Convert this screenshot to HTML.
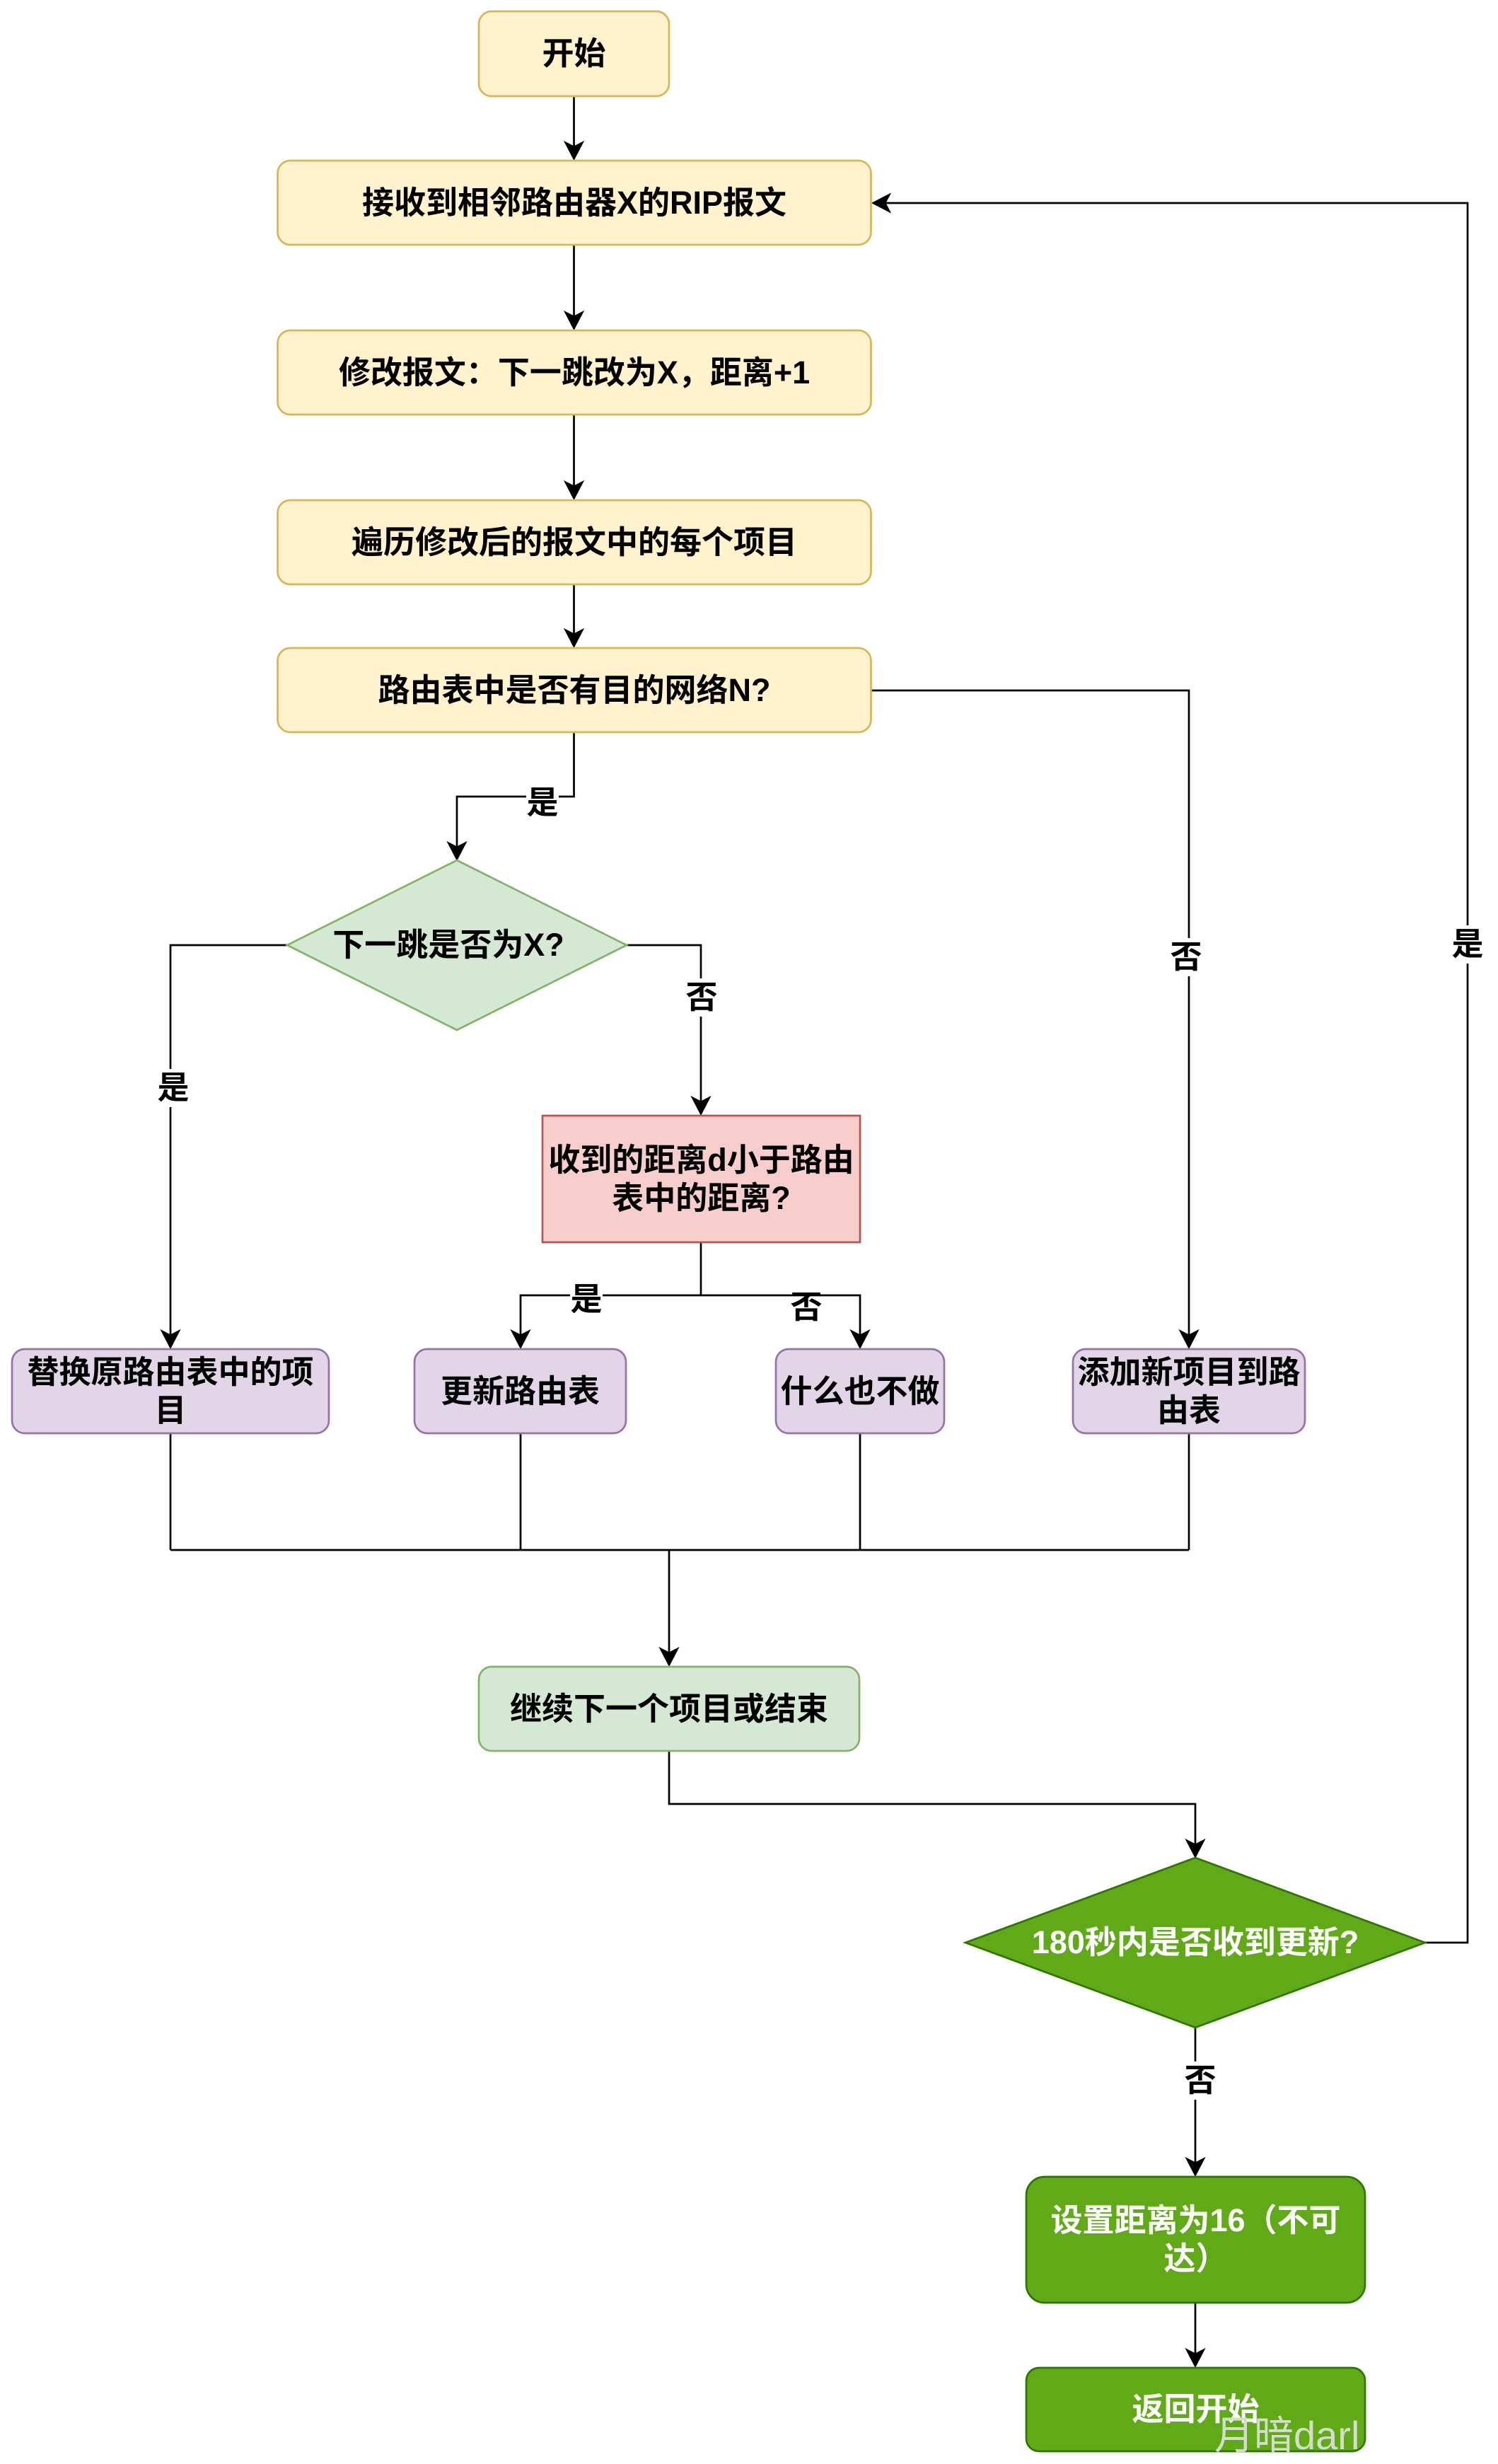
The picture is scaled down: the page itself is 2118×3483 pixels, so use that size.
<!DOCTYPE html>
<html>
<head>
<meta charset="utf-8">
<style>
html,body{margin:0;padding:0;background:#fff;}
#wrap{position:relative;width:2118px;height:3483px;overflow:hidden;background:#fff;}
svg{position:absolute;left:0;top:0;}
.t{position:absolute;display:flex;align-items:center;justify-content:center;text-align:center;
font-family:"Liberation Sans","Noto Sans CJK SC",sans-serif;font-weight:bold;font-size:45px;line-height:54px;color:#000;white-space:nowrap;}
.w{color:#fff;}
.lb{position:absolute;width:46px;height:54px;margin-left:-23px;margin-top:-27px;background:#fff;
font-family:"Liberation Sans","Noto Sans CJK SC",sans-serif;font-weight:bold;font-size:45px;line-height:54px;text-align:center;color:#000;}
#wm{position:absolute;left:1451px;top:3347px;width:482px;height:119px;overflow:hidden;}
#wm span{position:absolute;left:266px;top:68px;font-family:"Liberation Sans","Noto Sans CJK SC",sans-serif;font-weight:normal;font-size:56px;line-height:56px;color:#d5dccd;white-space:nowrap;}
</style>
</head>
<body>
<div id="wrap">
<svg width="2118" height="3483" viewBox="0 0 2118 3483" xmlns="http://www.w3.org/2000/svg">
<g fill="none" stroke="#000" stroke-width="2.7">
<line x1="811.5" y1="137" x2="811.5" y2="210"/>
<line x1="811.5" y1="347" x2="811.5" y2="450"/>
<line x1="811.5" y1="587" x2="811.5" y2="690"/>
<line x1="811.5" y1="826" x2="811.5" y2="899"/>
<polyline points="811.5,1036 811.5,1126 646,1126 646,1200"/>
<polyline points="406,1336 241,1336 241,1890"/>
<polyline points="886,1336 991,1336 991,1560"/>
<polyline points="1232,976 1681,976 1681,1890"/>
<polyline points="991,1757 991,1831"/>
<polyline points="736,1890 736,1831 1216,1831 1216,1890"/>
<line x1="241" y1="2027" x2="241" y2="2191"/>
<line x1="736" y1="2027" x2="736" y2="2191"/>
<line x1="1216" y1="2027" x2="1216" y2="2191"/>
<line x1="1681" y1="2027" x2="1681" y2="2191"/>
<line x1="241" y1="2191" x2="1681" y2="2191"/>
<line x1="946" y1="2191" x2="946" y2="2339"/>
<polyline points="946,2476 946,2550 1690,2550 1690,2610"/>
<polyline points="2015,2746 2075,2746 2075,287 1249,287"/>
<line x1="1690" y1="2866" x2="1690" y2="3060"/>
<line x1="1690" y1="3256" x2="1690" y2="3330"/>
</g>
<g fill="#000" stroke="#000" stroke-width="1" stroke-linejoin="miter">
<path d="M811.5 226 L798 200 L811.5 207 L825 200Z"/>
<path d="M811.5 466 L798 440 L811.5 447 L825 440Z"/>
<path d="M811.5 706 L798 680 L811.5 687 L825 680Z"/>
<path d="M811.5 915 L798 889 L811.5 896 L825 889Z"/>
<path d="M646 1216 L632.5 1190 L646 1197 L659.5 1190Z"/>
<path d="M241 1906 L227.5 1880 L241 1887 L254.5 1880Z"/>
<path d="M991 1576 L977.5 1550 L991 1557 L1004.5 1550Z"/>
<path d="M1681 1906 L1667.5 1880 L1681 1887 L1694.5 1880Z"/>
<path d="M736 1906 L722.5 1880 L736 1887 L749.5 1880Z"/>
<path d="M1216 1906 L1202.5 1880 L1216 1887 L1229.5 1880Z"/>
<path d="M946 2355 L932.5 2329 L946 2336 L959.5 2329Z"/>
<path d="M1690 2626 L1676.5 2600 L1690 2607 L1703.5 2600Z"/>
<path d="M1690 3076 L1676.5 3050 L1690 3057 L1703.5 3050Z"/>
<path d="M1690 3346 L1676.5 3320 L1690 3327 L1703.5 3320Z"/>
<path d="M1233 287 L1259 273.5 L1252 287 L1259 300.5Z"/>
</g>
<g fill="#fff2cc" stroke="#d6b656" stroke-width="2.7">
<rect x="677" y="16" width="269" height="120" rx="18" ry="18"/>
<rect x="392.5" y="227" width="839" height="119" rx="18" ry="18"/>
<rect x="392.5" y="467" width="839" height="119" rx="18" ry="18"/>
<rect x="392.5" y="707" width="839" height="119" rx="18" ry="18"/>
<rect x="392.5" y="916" width="839" height="119" rx="18" ry="18"/>
</g>
<polygon points="646,1216 886,1336 646,1456 406,1336" fill="#d5e8d4" stroke="#82b366" stroke-width="2.7"/>
<rect x="767" y="1577" width="449" height="179" fill="#f8cecc" stroke="#b85450" stroke-width="2.7"/>
<g fill="#e1d5e7" stroke="#9673a6" stroke-width="2.7">
<rect x="17" y="1907" width="448" height="119" rx="18" ry="18"/>
<rect x="586" y="1907" width="299" height="119" rx="18" ry="18"/>
<rect x="1097" y="1907" width="238" height="119" rx="18" ry="18"/>
<rect x="1517" y="1907" width="328" height="119" rx="18" ry="18"/>
</g>
<rect x="677" y="2356" width="538" height="119" rx="18" ry="18" fill="#d5e8d4" stroke="#82b366" stroke-width="2.7"/>
<polygon points="1690,2626 2015,2746 1690,2866 1365,2746" fill="#60a917" stroke="#2d7600" stroke-width="2.7"/>
<rect x="1451" y="3077" width="479" height="178" rx="26" ry="26" fill="#60a917" stroke="#2d7600" stroke-width="2.7"/>
<rect x="1451" y="3347" width="479" height="118" rx="18" ry="18" fill="#60a917" stroke="#2d7600" stroke-width="2.7"/>
</svg>

<div class="t" style="left:677px;top:16px;width:269px;height:120px;">开始</div>
<div class="t" style="left:392px;top:227px;width:840px;height:119px;">接收到相邻路由器X的RIP报文</div>
<div class="t" style="left:392px;top:467px;width:840px;height:119px;">修改报文：下一跳改为X，距离+1</div>
<div class="t" style="left:392px;top:707px;width:840px;height:119px;">遍历修改后的报文中的每个项目</div>
<div class="t" style="left:392px;top:916px;width:840px;height:119px;">路由表中是否有目的网络N?</div>
<div class="t" style="left:394px;top:1276px;width:480px;height:120px;">下一跳是否为X?</div>
<div class="t" style="left:767px;top:1577px;width:449px;height:179px;">收到的距离d小于路由<br>表中的距离?</div>
<div class="t" style="left:17px;top:1907px;width:448px;height:119px;">替换原路由表中的项<br>目</div>
<div class="t" style="left:586px;top:1907px;width:299px;height:119px;">更新路由表</div>
<div class="t" style="left:1097px;top:1907px;width:238px;height:119px;">什么也不做</div>
<div class="t" style="left:1517px;top:1907px;width:328px;height:119px;">添加新项目到路<br>由表</div>
<div class="t" style="left:677px;top:2356px;width:538px;height:119px;">继续下一个项目或结束</div>
<div class="t w" style="left:1365px;top:2686px;width:650px;height:120px;">180秒内是否收到更新?</div>
<div class="t w" style="left:1451px;top:3077px;width:479px;height:178px;">设置距离为16（不可<br>达）</div>
<div class="t w" style="left:1451px;top:3347px;width:479px;height:118px;">返回开始</div>

<div class="lb" style="left:767px;top:1135px;">是</div>
<div class="lb" style="left:245px;top:1538px;">是</div>
<div class="lb" style="left:992px;top:1410px;">否</div>
<div class="lb" style="left:1677px;top:1353px;">否</div>
<div class="lb" style="left:829px;top:1837px;">是</div>
<div class="lb" style="left:1140px;top:1848px;background:transparent;">否</div>
<div class="lb" style="left:2075px;top:1335px;">是</div>
<div class="lb" style="left:1697px;top:2941px;">否</div>

<div id="wm"><span>月暗darl</span></div>
</div>
</body>
</html>
